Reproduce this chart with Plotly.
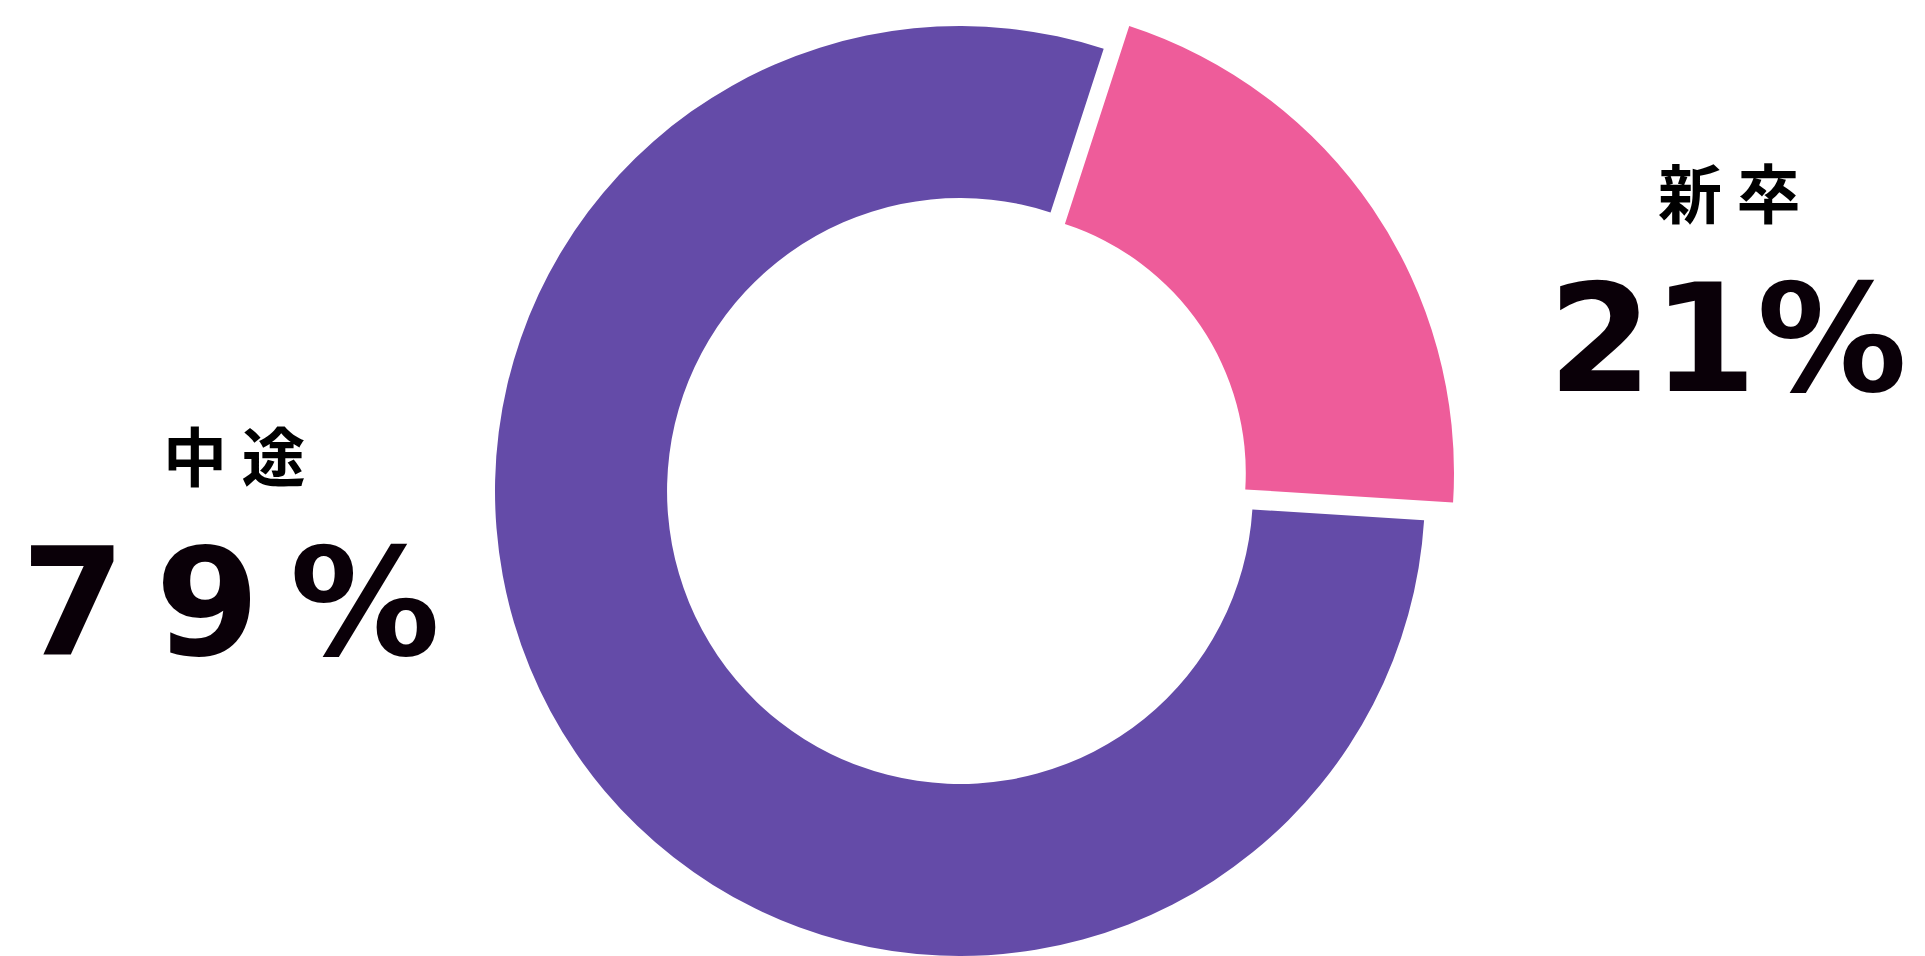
import plotly.graph_objects as go

W, H = 1925, 956

labels = ["新卒", "中途"]
values = [21, 79]
colors = ["#ee5c9a", "#644ba8"]
clear = "rgba(0,0,0,0)"


def dom(cx, cy, r):
    # pixel centre / radius -> paper domain
    return dict(x=[(cx - r) / W, (cx + r) / W],
                y=[1 - (cy + r) / H, 1 - (cy - r) / H])


fig = go.Figure()

# purple ring
fig.add_trace(go.Pie(
    labels=labels, values=values, sort=False, direction="clockwise",
    rotation=18, hole=0.63, textinfo="none", hoverinfo="label+percent",
    marker=dict(colors=[clear, colors[1]], line=dict(width=0)),
    domain=dom(960, 491, 465),
))

# pink slice, a bit bigger and pushed out
fig.add_trace(go.Pie(
    labels=labels, values=values, sort=False, direction="clockwise",
    rotation=18, hole=0.557, textinfo="none", hoverinfo="label+percent",
    marker=dict(colors=[colors[0], clear], line=dict(width=0)),
    domain=dom(984, 473, 470),
))

cjk = dict(family="Noto Sans CJK JP", size=64, color="#000000", weight="bold")
num = dict(family="DejaVu Sans", size=150, color="#0a0008", weight="bold")

# label positions in px (centre)
pos = {"新卒": (1729, 190, 1727, 339), "中途": (234, 453, 230, 603)}
for lab, val in zip(labels, values):
    lx, ly, nx, ny = pos[lab]
    name = " ".join(lab)
    pct = f"{val}%" if lab == "新卒" else "\u2009".join(f"{val}%")
    fig.add_annotation(x=lx / W, y=1 - ly / H, xref="paper", yref="paper",
                       text=name, showarrow=False, font=cjk,
                       xanchor="center", yanchor="middle")
    fig.add_annotation(x=nx / W, y=1 - ny / H, xref="paper", yref="paper",
                       text=pct, showarrow=False, font=num,
                       xanchor="center", yanchor="middle")

fig.update_layout(
    width=W, height=H,
    margin=dict(l=0, r=0, t=0, b=0),
    paper_bgcolor="white", plot_bgcolor="white",
    showlegend=False,
)

fig.write_html("out.html", config={"displayModeBar": False},
               post_script="document.body.style.margin='0';")
